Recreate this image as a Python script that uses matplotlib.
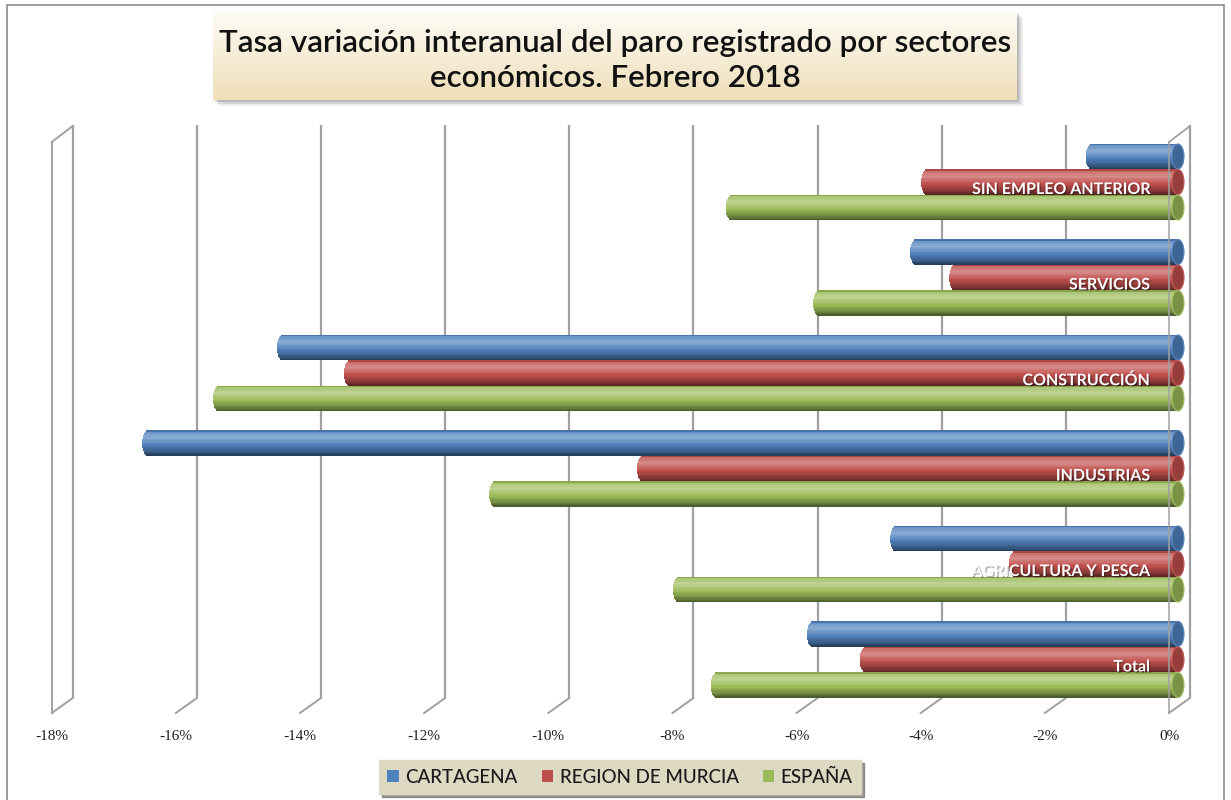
import numpy as np
import matplotlib
matplotlib.use("Agg")
import matplotlib.pyplot as plt
from matplotlib.patches import Rectangle, Ellipse, Patch
from matplotlib.transforms import ScaledTranslation
import matplotlib.patheffects as pe
from matplotlib.colors import to_rgb

# ---------------- data ----------------
categories = ["Total", "AGRICULTURA Y PESCA", "INDUSTRIAS",
              "CONSTRUCCIÓN", "SERVICIOS", "SIN EMPLEO ANTERIOR"]
series_names = ["CARTAGENA", "REGION DE MURCIA", "ESPAÑA"]
cartagena = [-5.88, -4.54, -16.59, -14.42, -4.22, -1.39]
murcia = [-5.03, -2.63, -8.62, -13.34, -3.59, -4.04]
espana = [-7.43, -8.04, -11.00, -15.45, -5.78, -7.19]
xticks = [-18, -16, -14, -12, -10, -8, -6, -4, -2, 0]
xticklabels = ["-18%", "-16%", "-14%", "-12%", "-10%", "-8%", "-6%", "-4%", "-2%", "0%"]
title_text = "Tasa variación interanual del paro registrado por sectores\neconómicos. Febrero 2018"

series_values = [cartagena, murcia, espana]
series_colors = ["#4F81BD", "#C0504D", "#9BBB59"]

# ---------------- layout ----------------
W, H, DPI = 1231, 800, 100
fig = plt.figure(figsize=(W / DPI, H / DPI), dpi=DPI)
fig.patch.set_facecolor("white")


def fx(px):
    return px / W


def fy(py):
    return 1 - py / H


PX_PER_PCT = 62.07
ZERO_PX = 1190
x0_px, x1_px = 44, 1196
Y0_PX, PX_PER_CAT = 659.5, 95.5
top_px, bot_px = 125, 698

ax = fig.add_axes([fx(x0_px), fy(bot_px), (x1_px - x0_px) / W, (bot_px - top_px) / H])
ax.set_xlim((x0_px - ZERO_PX) / PX_PER_PCT, (x1_px - ZERO_PX) / PX_PER_PCT)
ylo, yhi = (Y0_PX - bot_px) / PX_PER_CAT, (Y0_PX - top_px) / PX_PER_CAT
ax.set_ylim(ylo, yhi)
for s in ax.spines.values():
    s.set_visible(False)
ax.set_yticks([])
ax.set_xticks(xticks, xticklabels)
ax.tick_params(axis="x", length=0, pad=23)
grid_col = "#a0a0a0"
ax.grid(axis="x", color=grid_col, lw=1.6, zorder=0)
ax.set_axisbelow(True)

lbl_shift = ScaledTranslation(-21 / DPI, 0, fig.dpi_scale_trans)
for lab in ax.get_xticklabels():
    lab.set_transform(lab.get_transform() + lbl_shift)
    lab.set_fontfamily("Liberation Serif")
    lab.set_fontsize(11)
    lab.set_color("#222222")

# 3D floor / walls
dx = -21 / PX_PER_PCT
dy = -15 / PX_PER_CAT
for t in xticks:
    ax.plot([t, t + dx], [ylo, ylo + dy], color=grid_col, lw=1.4, clip_on=False, zorder=1)
front_top = (Y0_PX - 142) / PX_PER_CAT
back_top = (Y0_PX - 126) / PX_PER_CAT
ax.plot([xticks[0] + dx, xticks[0] + dx], [ylo + dy, front_top], color=grid_col, lw=1.4, clip_on=False, zorder=1)
ax.plot([xticks[0] + dx, xticks[0]], [front_top, back_top], color=grid_col, lw=1.4, clip_on=False, zorder=1)
ax.plot([xticks[-1] + dx, xticks[-1] + dx], [ylo + dy, front_top], color=grid_col, lw=1.3,
        alpha=0.85, clip_on=False, zorder=7)
ax.plot([xticks[-1] + dx, xticks[-1]], [front_top, back_top], color=grid_col, lw=1.3, clip_on=False, zorder=1)

# ---------------- cylinder bars ----------------
bar_tr = ax.transData + ScaledTranslation(-12 / DPI, 0, fig.dpi_scale_trans)
h = 25.5 / PX_PER_CAT
hw = 6 / PX_PER_PCT
n_str = 20
sh = h / n_str
ypos = np.arange(len(categories))


def shade(c, f):
    c = np.array(to_rgb(c))
    if f >= 0:
        return tuple(c + (1 - c) * f)
    return tuple(c * (1 + f))


prof_t = [0.0, 0.07, 0.28, 0.55, 0.85, 1.0]
prof_f = [-0.25, 0.15, 0.35, 0.02, -0.3, -0.55]

for j, (vals, col) in enumerate(zip(series_values, series_colors)):
    vals = np.array(vals)
    yc = ypos + (1 - j) * h
    for k in range(n_str):
        s = 1 - (2 * k + 1) / n_str  # +1 top, -1 bottom
        t = (1 - s) / 2
        f = np.interp(t, prof_t, prof_f)
        ext = hw * np.sqrt(max(0.0, 1 - s * s))
        top = yc + h / 2 - k * sh
        bottom = np.maximum(yc - h / 2, top - 1.6 * sh)
        ax.barh(bottom, vals - ext, left=0, height=top - bottom, align="edge",
                color=shade(col, f), lw=0, transform=bar_tr, zorder=3)
    for y in yc:
        ax.add_patch(Ellipse((0, y), 2 * hw, h * 0.98, transform=bar_tr,
                             facecolor=shade(col, -0.22), edgecolor=shade(col, 0.05),
                             lw=0.8, zorder=4))

# category labels
for i, cat in enumerate(categories):
    ax.text((1150 - ZERO_PX) / PX_PER_PCT, ypos[i] - 8 / PX_PER_CAT, cat,
            ha="right", va="center", color="white", fontweight="bold",
            family="Lato", fontsize=11.5, zorder=8,
            path_effects=[pe.withSimplePatchShadow(offset=(1, -1), shadow_rgbFace="black", alpha=0.3)])

# ---------------- title box ----------------
tb = (213, 12, 1017, 100)
for k, a in enumerate([0.10, 0.15, 0.22]):
    off = 6 - 2 * k
    fig.add_artist(Rectangle((fx(tb[0] + off), fy(tb[3] + off)), (tb[2] - tb[0]) / W, (tb[3] - tb[1]) / H,
                             transform=fig.transFigure, facecolor="#555555", alpha=a, lw=0, zorder=1))
tax = fig.add_axes([fx(tb[0]), fy(tb[3]), (tb[2] - tb[0]) / W, (tb[3] - tb[1]) / H], zorder=2)
grad = np.linspace(0, 1, 100)[:, None]
c_top = np.array(to_rgb("#FDFBF5"))
c_bot = np.array(to_rgb("#EFDFB9"))
img = c_top[None, None, :] * (1 - grad[:, :, None]) + c_bot[None, None, :] * grad[:, :, None]
tax.imshow(img, aspect="auto", extent=(0, 1, 0, 1))
tax.set_xlim(0, 1)
tax.set_ylim(0, 1)
tax.axis("off")
tax.text(0.5, 0.45, title_text, ha="center", va="center", fontsize=22.6, family="Lato",
         fontweight="semibold", linespacing=1.3, color="#111111")

# ---------------- legend ----------------
handles = [Patch(facecolor=c, edgecolor="none", label=n) for n, c in zip(series_names, series_colors)]
leg = ax.legend(handles=handles, ncol=3, loc="center", bbox_to_anchor=(fx(620), fy(777)),
                bbox_transform=fig.transFigure, frameon=True, fancybox=False, shadow=True,
                facecolor="#DDD9C3", edgecolor="#DDD9C3", framealpha=1,
                handlelength=0.6, handleheight=0.6, handletextpad=0.35, columnspacing=1.3,
                borderpad=0.45, prop={"family": "Lato", "size": 13.5, "weight": "medium"})
for txt in leg.get_texts():
    txt.set_color("#1a1a1a")

# outer border
fig.add_artist(Rectangle((fx(7), fy(806)), (1224 - 7) / W, (806 - 5) / H, transform=fig.transFigure,
                         fill=False, edgecolor="#8c8c8c", lw=1.2, zorder=0))

fig.savefig("out.png", dpi=DPI)
